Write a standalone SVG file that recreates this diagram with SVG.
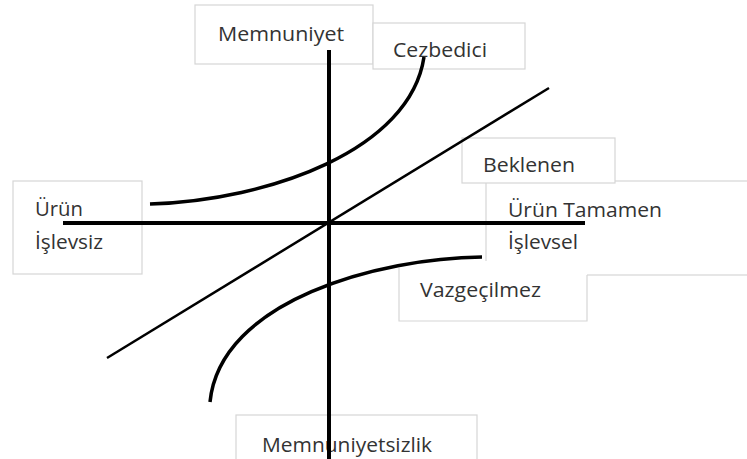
<svg xmlns="http://www.w3.org/2000/svg" width="747" height="459" viewBox="0 0 747 459">
<style>
.box{fill:#ffffff;stroke:#d6d6d6;stroke-width:1.2}
.edge{stroke:#d6d6d6;stroke-width:1.2}
.t{font-family:"Open Sans","Noto Sans","DejaVu Sans",sans-serif;font-size:20px;fill:#333333}
.axis{stroke:#000;stroke-width:4;fill:none}
.diag{stroke:#000;stroke-width:2.5;fill:none}
.curve{stroke:#000;stroke-width:3.5;fill:none;stroke-linecap:butt}
</style>
<rect width="747" height="459" fill="#ffffff"/>
<g id="node-urun-tamamen">
<rect class="box" x="486" y="181" width="265" height="94"/>
<text class="t" x="508" y="217" textLength="154" lengthAdjust="spacingAndGlyphs">Ürün Tamamen</text>
<text class="t" x="508" y="249" textLength="70" lengthAdjust="spacingAndGlyphs">İşlevsel</text>
</g>
<g id="node-beklenen">
<rect class="box" x="462" y="138" width="153" height="45"/>
<text class="t" x="483" y="172" textLength="92" lengthAdjust="spacingAndGlyphs">Beklenen</text>
</g>
<g id="node-vazgecilmez">
<rect x="399" y="261" width="188" height="60" fill="#ffffff"/>
<path class="edge" fill="none" d="M399,268 V321 H587 V275"/>
<text class="t" x="420" y="297" textLength="121" lengthAdjust="spacingAndGlyphs">Vazgeçilmez</text>
</g>
<g id="node-memnuniyet">
<rect class="box" x="195" y="5" width="178" height="59"/>
<text class="t" x="218" y="41" textLength="126" lengthAdjust="spacingAndGlyphs">Memnuniyet</text>
</g>
<g id="node-cezbedici">
<rect class="box" x="373" y="23" width="152" height="46"/>
<text class="t" x="393" y="57" textLength="94" lengthAdjust="spacingAndGlyphs">Cezbedici</text>
</g>
<g id="node-urun-islevsiz">
<rect class="box" x="13" y="181" width="129" height="93"/>
<text class="t" x="35" y="216" textLength="48" lengthAdjust="spacingAndGlyphs">Ürün</text>
<text class="t" x="35" y="249" textLength="68" lengthAdjust="spacingAndGlyphs">İşlevsiz</text>
</g>
<g id="node-memnuniyetsizlik">
<rect class="box" x="236" y="415" width="241" height="50"/>
<text class="t" x="262" y="452" textLength="170" lengthAdjust="spacingAndGlyphs">Memnuniyetsizlik</text>
</g>
<g id="connectors">
<line class="axis" x1="329" y1="50" x2="329" y2="459"/>
<line class="axis" x1="63" y1="223" x2="585" y2="223"/>
<line class="diag" x1="107" y1="358" x2="549" y2="88"/>
<path class="curve" d="M150,204 C270,200 410,150 424,57"/>
<path class="curve" d="M482,257 C380,258 220,300 210,402"/>
</g>
</svg>
